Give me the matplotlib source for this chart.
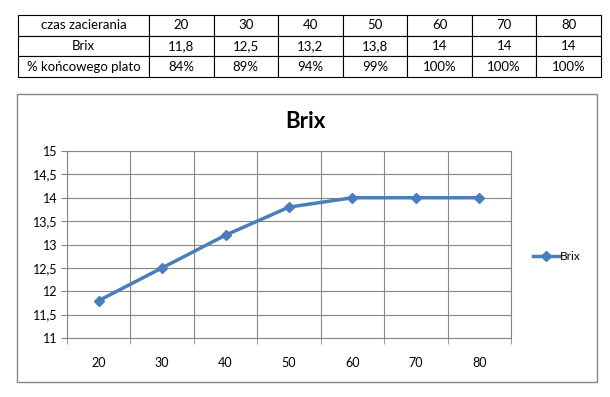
# Brix vs mashing time: table + line chart

import matplotlib.pyplot as plt
from matplotlib.patches import Rectangle
from matplotlib.ticker import FuncFormatter, FixedLocator

plt.rcParams['font.family'] = ['Lato', 'DejaVu Sans']

# =========================================
# Data

czas = [20, 30, 40, 50, 60, 70, 80]
brix = [11.8, 12.5, 13.2, 13.8, 14, 14, 14]
brix_labels = ['11,8', '12,5', '13,2', '13,8', '14', '14', '14']
procent = ['84%', '89%', '94%', '99%', '100%', '100%', '100%']
row_labels = ['czas zacierania', 'Brix', '% końcowego plato']

W, H = 610, 397
fig = plt.figure(figsize=(W / 100, H / 100), dpi=100)


def box(x0, y0, x1, y1):
    # pixel coords (top-left origin) -> figure fraction
    return [x0 / W, 1 - y1 / H, (x1 - x0) / W, (y1 - y0) / H]


# =========================================
# Table

tax = fig.add_axes(box(18, 15, 601, 77))
tax.axis('off')
cells = [
    [row_labels[0]] + [str(c) for c in czas],
    [row_labels[1]] + brix_labels,
    [row_labels[2]] + procent,
]
first = 131 / 583
rest = (1 - first) / 7
tbl = tax.table(cellText=cells, cellLoc='center', bbox=[0, 0, 1, 1],
                colWidths=[first] + [rest] * 7)
tbl.auto_set_font_size(False)
for (r, c), cell in tbl.get_celld().items():
    cell.set_fontsize(9.5)
    cell.set_edgecolor('black')
    cell.set_linewidth(0.8)

# =========================================
# Chart border

fig.patches.append(Rectangle((17 / W, 1 - 382 / H), 580 / W, 288 / H,
                             transform=fig.transFigure, fill=False,
                             edgecolor='#868686', linewidth=1))

# =========================================
# Plot

ax = fig.add_axes(box(67, 151, 511, 338))
x = list(range(len(czas)))
line, = ax.plot(x, brix, color='#4A7EBB', linewidth=2.5, marker='D',
                markersize=5.5, label='Brix')

ax.set_xlim(-0.5, len(czas) - 0.5)
ax.set_ylim(11, 15)
ax.set_yticks([11 + 0.5 * i for i in range(9)])
ax.yaxis.set_major_formatter(FuncFormatter(
    lambda v, p: (f'{v:g}').replace('.', ',')))

ax.set_xticks(x)
ax.set_xticklabels([str(c) for c in czas])
ax.xaxis.set_minor_locator(FixedLocator([i - 0.5 for i in range(len(czas) + 1)]))
ax.tick_params(axis='x', which='major', length=0, pad=14, labelsize=9)
ax.tick_params(axis='x', which='minor', length=4, direction='out',
               color='#868686')
ax.tick_params(axis='y', length=4, direction='out', color='#868686',
               labelsize=9, pad=3)

ax.grid(True, axis='y', color='#868686', linewidth=0.8)
ax.grid(True, axis='x', which='minor', color='#868686', linewidth=0.8)
for s in ax.spines.values():
    s.set_color('#868686')
    s.set_linewidth(0.8)
ax.set_axisbelow(True)

fig.text(305 / W, 1 - 121 / H, 'Brix', ha='center', va='center',
         fontsize=16, fontweight='bold')

fig.legend(handles=[line], loc='center left',
           bbox_to_anchor=(522 / W, 1 - 257 / H), frameon=False,
           fontsize=8.5, handlelength=2.2, handletextpad=0.1)

fig.savefig('out.png', dpi=100)
